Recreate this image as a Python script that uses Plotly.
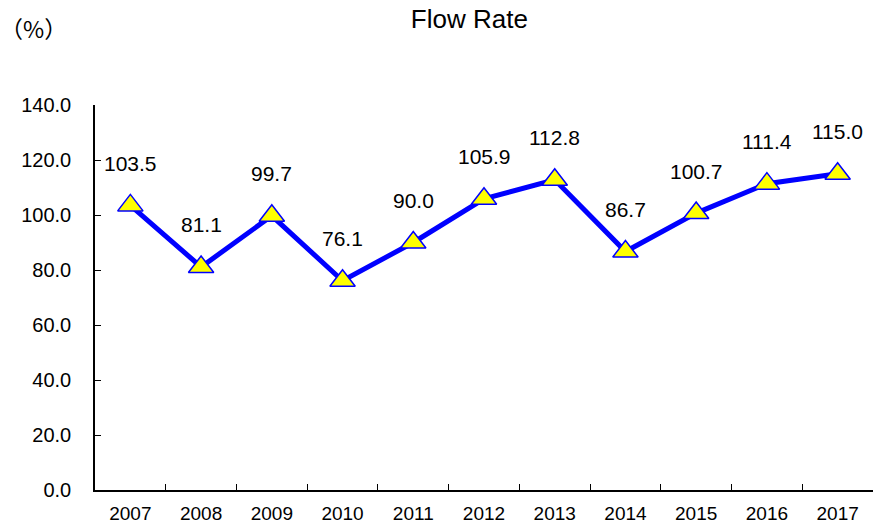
import plotly.graph_objects as go

years = ["2007", "2008", "2009", "2010", "2011", "2012", "2013", "2014", "2015", "2016", "2017"]
flow_rate = [103.5, 81.1, 99.7, 76.1, 90.0, 105.9, 112.8, 86.7, 100.7, 111.4, 115.0]
y_ticks = [0, 20, 40, 60, 80, 100, 120, 140]

FONT = "Liberation Sans, Arial, sans-serif"

fig = go.Figure()
fig.add_trace(go.Scatter(
    x=years, y=flow_rate,
    mode="lines+markers",
    line=dict(color="#0000FF", width=5),
    marker=dict(symbol="triangle-up", size=22, color="#FFFF00",
                line=dict(color="#0000FF", width=1.5)),
    cliponaxis=False,
    hoverinfo="x+y",
))

# value labels above each point (category index, since "2007" would be read as a number)
for i, v in enumerate(flow_rate):
    fig.add_annotation(x=i, y=v, text=f"{v:.1f}", showarrow=False,
                       yshift=42, font=dict(family=FONT, size=21, color="#000000"))

fig.add_annotation(xref="paper", yref="paper", x=-0.125, y=1.2, text="（%）",
                   showarrow=False, xanchor="left", yanchor="middle",
                   font=dict(family="Noto Sans CJK JP", size=23, color="#000000"))

fig.update_layout(
    title=dict(text="Flow Rate", x=0.537, xanchor="center", y=0.965, yanchor="middle",
               font=dict(family=FONT, size=26, color="#000000")),
    width=874, height=526,
    margin=dict(l=95, r=1, t=105, b=36),
    plot_bgcolor="white", paper_bgcolor="white",
    showlegend=False,
    font=dict(family=FONT, color="#000000"),
)
fig.update_xaxes(
    type="category", showgrid=False, showline=True, linecolor="#000000", linewidth=1.5,
    ticks="inside", ticklen=6, tickcolor="#000000", tickson="boundaries",
    tickfont=dict(size=19), range=[-0.5, len(years) - 0.5], automargin=False,
    ticklabelstandoff=5,
)
fig.update_yaxes(
    range=[0, 140], tickvals=y_ticks, ticktext=[f"{t:.1f}" for t in y_ticks],
    showgrid=False, showline=True, linecolor="#000000", linewidth=1.5,
    ticks="inside", ticklen=6, tickcolor="#000000", zeroline=False,
    tickfont=dict(size=20), ticklabelstandoff=18, automargin=False,
)

# drop the default page margin so the figure sits at the window's corner
fig.write_html("out.html", config={"displayModeBar": False},
               post_script="document.body.style.margin='0';")
